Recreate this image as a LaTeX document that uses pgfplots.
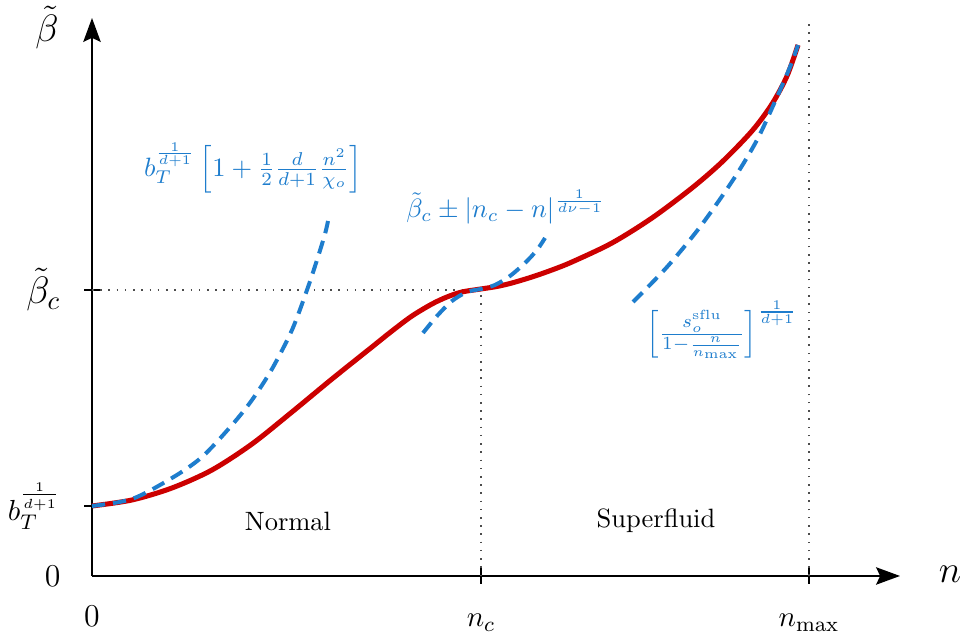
\documentclass[border=0pt]{standalone}
\usepackage{pgfplots}
\pgfplotsset{compat=1.18}
\usetikzlibrary{arrows.meta}
\definecolor{curvered}{RGB}{204,0,0}
\definecolor{asymblue}{RGB}{30,125,205}
\begin{document}
\begin{tikzpicture}
% fixed page size (965x639 at 2.65 px/pt)
\path[use as bounding box] (-34.72pt,-23.77pt) rectangle (329.45pt,217.36pt);
\begin{axis}[
  at={(0,0)}, anchor=origin,
  x=0.3774pt, y=0.3774pt,
  xmin=0, xmax=808, ymin=0, ymax=558,
  axis lines=left,
  axis line style={line width=1pt, -{Stealth[length=9pt,width=6.5pt,inset=1.5pt]}},
  xtick={389,717}, xticklabels={$n_c$,$n_{\max}$},
  ytick={70,286}, yticklabels={$b_T^{\frac{1}{d+1}}$,{\Large$\tilde\beta_c$}},
  extra x ticks={0}, extra x tick labels={{\large$0$}},
  extra y ticks={0}, extra y tick labels={{\large$0$}\hspace{4pt}},
  extra tick style={tick style={draw=none}},
  tick align=center, major tick length=6pt,
  tick style={line width=0.8pt, black},
  tick label style={font=\fontsize{11}{13}\selectfont},
  xticklabel style={anchor=base, yshift=-16.2pt},
  yticklabel style={anchor=east, xshift=-5.4pt},
  clip=false,
]
% reference lines
\addplot[black!70, line width=0.6pt, dash pattern=on 0.6pt off 2.5pt] coordinates {(0,286) (389,286) (389,0)};
\addplot[black!70, line width=0.6pt, dash pattern=on 0.6pt off 2.5pt] coordinates {(717,0) (717,556)};
% full curve
\addplot[curvered, line width=1.9pt, smooth] coordinates {
  (0,70) (40,76) (80,88) (120,106) (160,132) (200,164) (240,197) (280,229)
  (300,245) (320,260) (340,272) (355,279) (370,284) (389,287) (405,289.5)
  (420,293) (440,299) (460,306) (480,314) (520,333) (560,358) (600,388)
  (630,414) (660,445) (680,472) (695,500) (706,531)};
% asymptotes
\addplot[asymblue, line width=1.5pt, dash pattern=on 5pt off 3pt, smooth] coordinates {
  (0,70) (40,77) (80,98) (110,119) (140,151) (160,176) (180,207) (200,246)
  (215,286) (225,316) (233,342) (236,355)};
\addplot[asymblue, line width=1.5pt, dash pattern=on 5pt off 3pt, smooth] coordinates {
  (331,243) (345,260) (360,275) (375,284) (389,287) (403,291) (418,300)
  (433,313) (445,326) (453,338)};
\addplot[asymblue, line width=1.5pt, dash pattern=on 5pt off 3pt, smooth] coordinates {
  (541,274) (575,309) (608,349) (641,396) (665,436) (685,479) (698,509) (706,531)};
% labels
\node at (axis cs:-45,548) {\Large $\tilde\beta$};
\node at (axis cs:858,2) {\Large $n$};
\node[asymblue] at (axis cs:161,408) {$b_T^{\frac{1}{d+1}}\left[1+\frac{1}{2}\frac{d}{d+1}\frac{n^2}{\chi_o}\right]$};
\node[asymblue] at (axis cs:414,369) {$\tilde\beta_c\pm|n_c-n|^{\frac{1}{d\nu-1}}$};
\node[asymblue] at (axis cs:630,246) {$\left[\frac{s_o^{\mathrm{sflu}}}{1-\frac{n}{n_{\max}}}\right]^{\frac{1}{d+1}}$};
\node at (axis cs:196,55) {Normal};
\node at (axis cs:564,55) {Superfluid};
\end{axis}
\end{tikzpicture}
\end{document}
